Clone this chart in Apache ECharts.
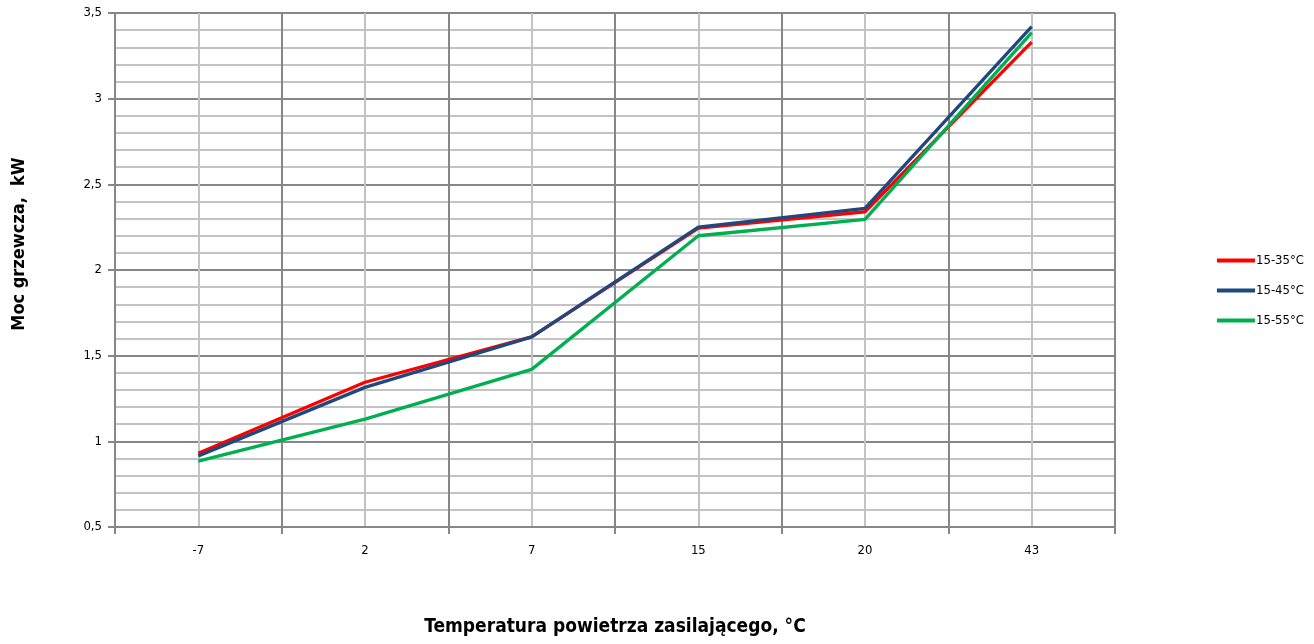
<!DOCTYPE html>
<html>
<head>
<meta charset="utf-8">
<script src="https://cdn.jsdelivr.net/npm/echarts@6/dist/echarts.min.js"></script>
<style>
  html, body { margin: 0; padding: 0; background: #fff; }
  #chart { width: 1314px; height: 644px; }
</style>
</head>
<body>
<div id="chart"></div>
<script>
const categories = ['-7', '2', '7', '15', '20', '43'];
const s35 = [0.93, 1.345, 1.61, 2.245, 2.34, 3.33];
const s45 = [0.915, 1.315, 1.61, 2.25, 2.36, 3.42];
const s55 = [0.885, 1.13, 1.42, 2.2, 2.295, 3.385];
const seriesNames = ['15-35°C', '15-45°C', '15-55°C'];
const seriesColors = ['#FF0000', '#1F497D', '#00B050'];

const font = "'Liberation Sans Narrow', 'DejaVu Sans Condensed', 'Liberation Sans', sans-serif";
const dark = '#878787';
const light = '#C3C3C3';

const chart = echarts.init(document.getElementById('chart'));

function line(name, data, color) {
  return {
    name: name,
    type: 'line',
    data: data,
    symbol: 'none',
    lineStyle: { color: color, width: 3.3 },
    itemStyle: { color: color },
    z: 5
  };
}

chart.setOption({
  animation: false,
  grid: { left: 115, right: 199, top: 13, bottom: 117, outerBoundsMode: 'none', containLabel: false },
  legend: {
    orient: 'vertical',
    left: 1212,
    top: 249,
    itemGap: 17,
    itemWidth: 38,
    itemHeight: 4,
    icon: 'rect',
    textStyle: { fontFamily: font, fontSize: 13, color: '#000', padding: [0, 0, 0, -4] },
    data: seriesNames
  },
  xAxis: [
    {
      type: 'category',
      data: categories,
      boundaryGap: true,
      axisLine: { lineStyle: { color: dark, width: 2 } },
      axisTick: { show: true, length: 7, lineStyle: { color: dark, width: 2 } },
      axisLabel: { fontFamily: font, fontSize: 13, color: '#000', margin: 17 },
      splitLine: { show: true, lineStyle: { color: dark, width: 2 } },
      name: 'Temperatura powietrza zasilającego, °C',
      nameLocation: 'middle',
      nameGap: 91,
      nameTextStyle: { fontFamily: font, fontSize: 19, fontWeight: 'bold', color: '#000' },
      z: 3
    },
    {
      type: 'value',
      min: 0,
      max: 6,
      interval: 1,
      position: 'bottom',
      axisLine: { show: false },
      axisTick: { show: false },
      axisLabel: { show: false },
      splitLine: { show: false },
      minorTick: { show: false, splitNumber: 2 },
      minorSplitLine: { show: true, lineStyle: { color: light, width: 2 } }
    }
  ],
  yAxis: {
    type: 'value',
    min: 0.5,
    max: 3.5,
    interval: 0.5,
    axisLine: { show: true, lineStyle: { color: dark, width: 2 } },
    axisTick: { show: true, length: 7, lineStyle: { color: dark, width: 2 } },
    axisLabel: {
      fontFamily: font, fontSize: 13, color: '#000', margin: 13,
      formatter: v => String(v).replace('.', ',')
    },
    splitLine: { show: true, lineStyle: { color: dark, width: 2 } },
    minorTick: { show: false, splitNumber: 5 },
    minorSplitLine: { show: true, lineStyle: { color: light, width: 2 } }
  },
  graphic: [{
    type: 'text',
    x: 19,
    y: 244,
    rotation: Math.PI / 2,
    style: {
      text: 'Moc grzewcza,  kW',
      fontFamily: font,
      fontSize: 18,
      fontWeight: 'bold',
      fill: '#000',
      align: 'center',
      verticalAlign: 'middle'
    }
  }],
  series: [
    line(seriesNames[0], s35, seriesColors[0]),
    line(seriesNames[1], s45, seriesColors[1]),
    line(seriesNames[2], s55, seriesColors[2])
  ]
});
</script>
</body>
</html>
